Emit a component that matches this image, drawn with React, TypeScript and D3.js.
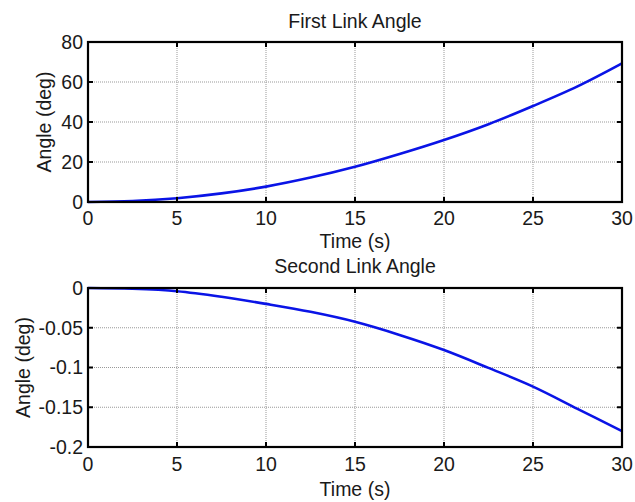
import React from "react";
import * as d3 from "d3";

const time = [0, 2.5, 5, 7.5, 10, 12.5, 15, 17.5, 20, 22.5, 25, 27.5, 30];
const firstLinkAngle = [0, 0.5, 1.9, 4.3, 7.7, 12.2, 17.6, 24.0, 31.0, 38.9, 48.0, 57.8, 69.3];
const secondLinkAngle = [0, -0.001, -0.004, -0.011, -0.020, -0.030, -0.0425, -0.059, -0.078, -0.1005, -0.124, -0.152, -0.180];
const xTicks = [0, 5, 10, 15, 20, 25, 30];
const firstYTicks = [0, 20, 40, 60, 80];
const secondYTicks = [0, -0.05, -0.1, -0.15, -0.2];
const secondYTickLabels = ["0", "-0.05", "-0.1", "-0.15", "-0.2"];

const FONT = "'Liberation Sans', Arial, sans-serif";
const FS = 19.5;

type PanelProps = {
  top: number;
  bottom: number;
  yDomain: [number, number];
  yTicks: number[];
  yLabels: string[];
  values: number[];
  title: string;
  titleY: number;
  xLabelY: number;
  xTickY: number;
  yLabelX: number;
};

function Panel(p: PanelProps) {
  const left = 88;
  const right = 622;
  const x = d3.scaleLinear().domain([0, 30]).range([left, right]);
  const y = d3.scaleLinear().domain(p.yDomain).range([p.bottom, p.top]);
  const line = d3
    .line<number>()
    .x((_, i) => x(time[i]))
    .y((d) => y(d))
    .curve(d3.curveCatmullRom);
  const tl = 5;
  const cx = (left + right) / 2;
  return (
    <g>
      {xTicks.map((t) => (
        <line key={"gx" + t} x1={x(t)} x2={x(t)} y1={p.top} y2={p.bottom} stroke="#999" strokeWidth={1} strokeDasharray="1,1" />
      ))}
      {p.yTicks.map((t) => (
        <line key={"gy" + t} x1={left} x2={right} y1={y(t)} y2={y(t)} stroke="#999" strokeWidth={1} strokeDasharray="1,1" />
      ))}
      <path d={line(p.values) || ""} fill="none" stroke="#0a14e6" strokeWidth={2.6} />
      {xTicks.map((t) => (
        <g key={"tx" + t}>
          <line x1={x(t)} x2={x(t)} y1={p.bottom} y2={p.bottom - tl} stroke="#000" strokeWidth={2} />
          <line x1={x(t)} x2={x(t)} y1={p.top} y2={p.top + tl} stroke="#000" strokeWidth={2} />
          <text x={x(t)} y={p.xTickY} textAnchor="middle" fontFamily={FONT} fontSize={FS} fill="#1a1a1a">
            {t}
          </text>
        </g>
      ))}
      {p.yTicks.map((t, i) => (
        <g key={"ty" + t}>
          <line x1={left} x2={left + tl} y1={y(t)} y2={y(t)} stroke="#000" strokeWidth={2} />
          <line x1={right} x2={right - tl} y1={y(t)} y2={y(t)} stroke="#000" strokeWidth={2} />
          <text x={83} y={y(t)} dy="0.35em" textAnchor="end" fontFamily={FONT} fontSize={FS} fill="#1a1a1a">
            {p.yLabels[i]}
          </text>
        </g>
      ))}
      <rect x={left} y={p.top} width={right - left} height={p.bottom - p.top} fill="none" stroke="#000" strokeWidth={2.2} />
      <text x={cx} y={p.titleY} textAnchor="middle" fontFamily={FONT} fontSize={FS} fill="#1a1a1a">
        {p.title}
      </text>
      <text x={cx} y={p.xLabelY} textAnchor="middle" fontFamily={FONT} fontSize={FS} fill="#1a1a1a">
        Time (s)
      </text>
      <text
        transform={`translate(${p.yLabelX}, ${(p.top + p.bottom) / 2}) rotate(-90)`}
        textAnchor="middle"
        fontFamily={FONT}
        fontSize={FS}
        fill="#1a1a1a"
      >
        Angle (deg)
      </text>
    </g>
  );
}

export default function App() {
  return (
    <svg width={635} height={502} style={{ position: "absolute", left: 0, top: 0, background: "#fff" }}>
      <rect x={0} y={0} width={635} height={502} fill="#fff" />
      <Panel
        top={42}
        bottom={202}
        yDomain={[0, 80]}
        yTicks={firstYTicks}
        yLabels={firstYTicks.map(String)}
        values={firstLinkAngle}
        title="First Link Angle"
        titleY={28}
        xLabelY={248}
        xTickY={225}
        yLabelX={51}
      />
      <Panel
        top={288}
        bottom={447}
        yDomain={[-0.2, 0]}
        yTicks={secondYTicks}
        yLabels={secondYTickLabels}
        values={secondLinkAngle}
        title="Second Link Angle"
        titleY={273}
        xLabelY={496}
        xTickY={471}
        yLabelX={30}
      />
    </svg>
  );
}
